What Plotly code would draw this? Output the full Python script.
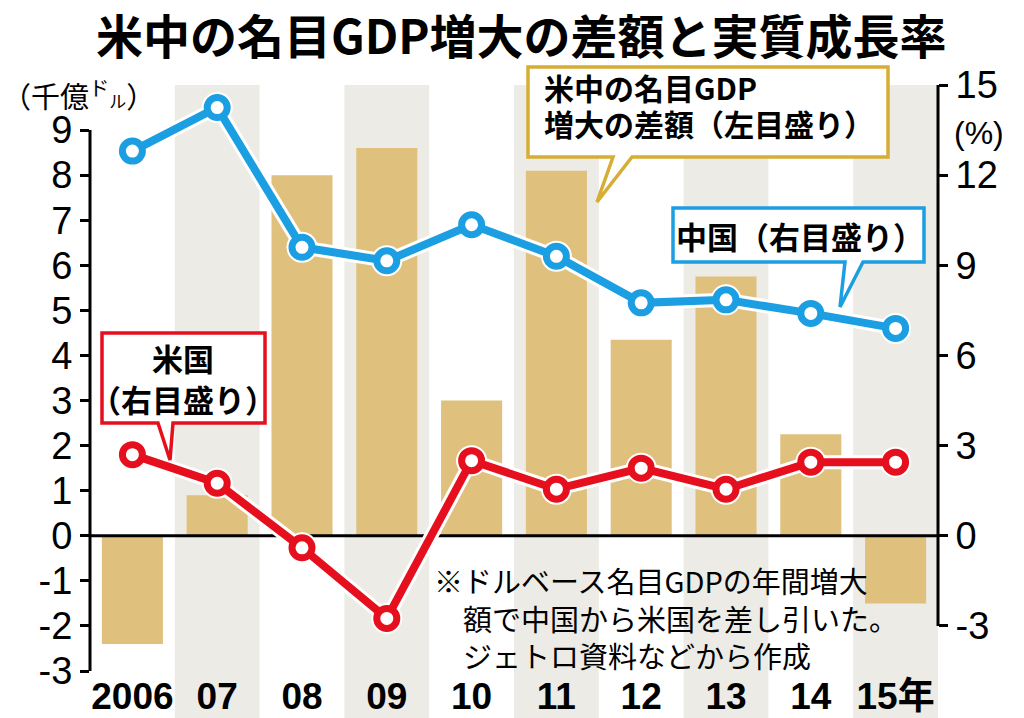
import plotly.graph_objects as go

# ---- data ----
years = ["2006", "07", "08", "09", "10", "11", "12", "13", "14", "15年"]
gdp_diff = [-2.4, 0.9, 8.0, 8.6, 3.0, 8.1, 4.35, 5.75, 2.25, -1.5]   # 千億ドル (left)
china = [12.8, 14.25, 9.6, 9.15, 10.35, 9.3, 7.75, 7.85, 7.4, 6.9]  # % (right)
us = [2.7, 1.75, -0.4, -2.75, 2.5, 1.55, 2.25, 1.55, 2.45, 2.45]     # % (right)
left_ticks = list(range(-3, 10))
right_ticks = [-3, 0, 3, 6, 9, 12, 15]

W, H = 1024, 718
L, R, T, B = 90, 938, 85, 671

def px(x):
    return (x - L) / (R - L)

def py(y):
    return (B - y) / (B - T)

BAR = "#DFC17D"
STRIPE = "#EDEBE5"
GOLD = "#D6AD35"
BLUE = "#1B9FE2"
RED = "#E60F1E"
CJK = "Noto Sans CJK JP"
NUM = "Liberation Sans, Arial, Noto Sans CJK JP, sans-serif"

n = len(years)
xs = list(range(n))

fig = go.Figure()
fig.add_trace(go.Bar(x=xs, y=gdp_diff, marker=dict(color=BAR, line=dict(width=0)),
                     width=0.72, yaxis="y", hoverinfo="skip"))
# zero line across the plot
fig.add_trace(go.Scatter(x=[-0.5, n - 0.5], y=[0, 0], mode="lines",
                         line=dict(color="black", width=3), yaxis="y", hoverinfo="skip"))
for vals, col in ((china, BLUE), (us, RED)):
    fig.add_trace(go.Scatter(x=xs, y=vals, mode="lines+markers", yaxis="y2",
                             line=dict(color="white", width=14),
                             marker=dict(size=31, color="white"), hoverinfo="skip"))
    fig.add_trace(go.Scatter(x=xs, y=vals, mode="lines+markers", yaxis="y2",
                             line=dict(color=col, width=8),
                             marker=dict(size=20, color="white", line=dict(color=col, width=7)),
                             hoverinfo="skip"))

shapes = []
for i in range(1, n, 2):
    shapes.append(dict(type="rect", xref="x", yref="paper", x0=i - 0.5, x1=i + 0.5,
                       y0=py(H), y1=1, fillcolor=STRIPE, line=dict(width=0), layer="below"))
# axis lines
shapes.append(dict(type="line", xref="paper", yref="y", x0=0, x1=0, y0=-3, y1=9,
                   line=dict(color="black", width=3)))
shapes.append(dict(type="line", xref="paper", yref="y2", x0=1, x1=1, y0=-3, y1=15,
                   line=dict(color="black", width=3)))

def callout(box, tail, color):
    x0, y0, x1, y1 = box
    (ta, tb, tip) = tail
    path = (f"M {px(x0)} {py(y0)} L {px(x1)} {py(y0)} L {px(x1)} {py(y1)} "
            f"L {px(tb)} {py(y1)} L {px(tip[0])} {py(tip[1])} L {px(ta)} {py(y1)} "
            f"L {px(x0)} {py(y1)} Z")
    return dict(type="path", xref="paper", yref="paper", path=path,
                fillcolor="white", line=dict(color=color, width=3.5), layer="above")

shapes.append(callout((528, 67, 888, 157), (613, 632, (597, 202)), GOLD))
shapes.append(callout((673, 208, 924, 262), (845, 863, (840, 307)), BLUE))
shapes.append(callout((102, 333, 265, 423), (158, 173, (170, 460)), RED))

ann = []
def text(x, y, s, size, weight="normal", family=CJK, xanchor="center", align="center"):
    ann.append(dict(xref="paper", yref="paper", x=px(x), y=py(y), text=s, showarrow=False,
                    xanchor=xanchor, yanchor="middle", align=align,
                    font=dict(family=family, size=size, color="black", weight=weight)))

text(521, 33, "米中の名目GDP増大の差額と実質成長率", 47, "bold")
text(542, 87, "米中の名目GDP", 30, "bold", xanchor="left")
text(542, 123, "増大の差額（左目盛り）", 30, "bold", xanchor="left")
text(800, 236, "中国（右目盛り）", 31, "bold")
text(183, 357, "米国", 31, "bold")
text(183, 398, "（右目盛り）", 31, "bold")
text(0, 94, "（千億<sup>ド</sup><span style='font-size:17px'>ル</span>）", 29, xanchor="left")
text(979, 133, "(%)", 32, family=NUM)
text(432, 617, "※ドルベース名目GDPの年間増大<br>　額で中国から米国を差し引いた。<br>　ジェトロ資料などから作成",
     29, xanchor="left", align="left")

fig.update_layout(
    width=W, height=H, margin=dict(l=L, r=W - R, t=T, b=H - B, autoexpand=False),
    paper_bgcolor="white", plot_bgcolor="rgba(0,0,0,0)", showlegend=False,
    bargap=0.28, shapes=shapes, annotations=ann,
    xaxis=dict(range=[-0.5, n - 0.5], tickvals=xs, ticktext=years, showgrid=False,
               zeroline=False, showline=False, ticks="", automargin=False,
               tickfont=dict(family=NUM, size=37, color="black", weight="bold")),
    yaxis=dict(range=[-3, 10], tickvals=left_ticks, ticktext=[str(v) for v in left_ticks],
               showgrid=False, zeroline=False, automargin=False,
               showline=False, ticks="outside", ticklen=9, tickwidth=3, tickcolor="black",
               tickfont=dict(family=NUM, size=38, color="black")),
    yaxis2=dict(range=[-4.5, 15], tickvals=right_ticks, ticktext=[str(v) for v in right_ticks],
                overlaying="y", side="right", automargin=False,
                showgrid=False, zeroline=False, showline=False, ticks="outside",
                ticklen=9, tickwidth=3, tickcolor="black",
                tickfont=dict(family=NUM, size=38, color="black")),
)

fig.write_html("out.html", config={"displayModeBar": False},
               post_script="document.body.style.margin='0';")
